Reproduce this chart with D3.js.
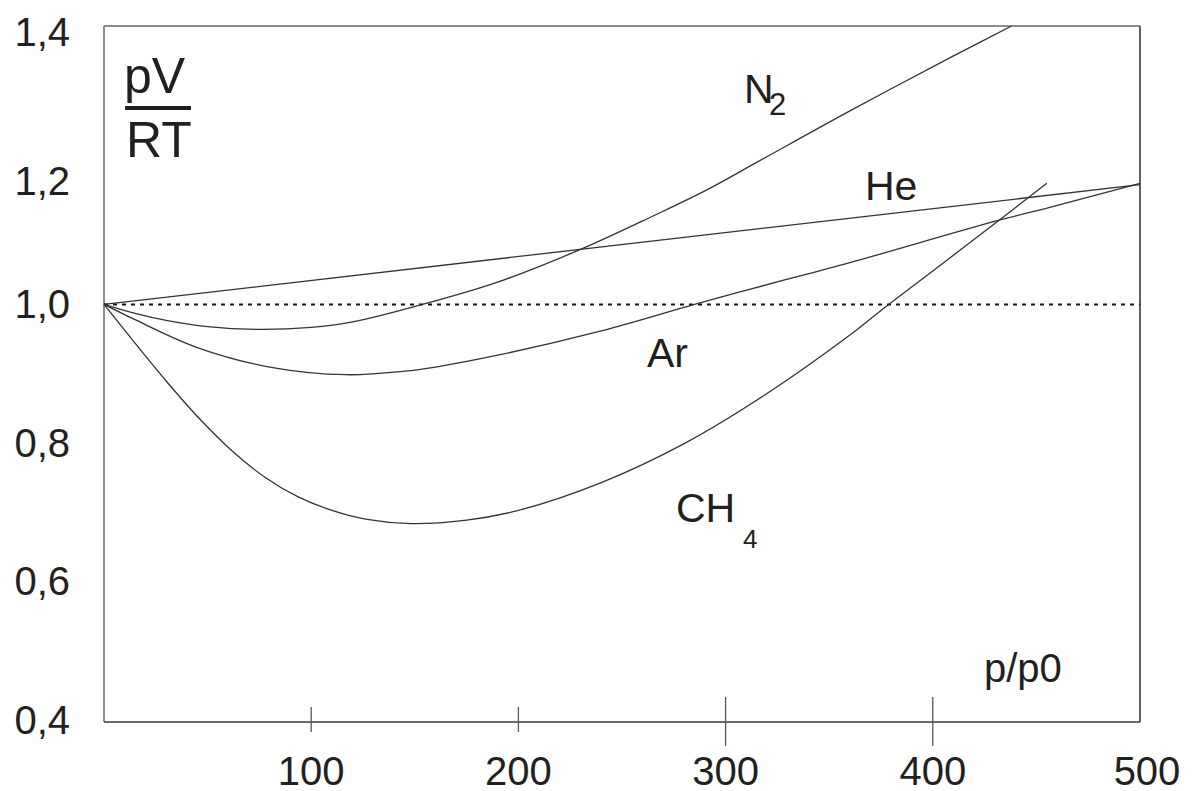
<!DOCTYPE html>
<html>
<head>
<meta charset="utf-8">
<script src="https://cdn.jsdelivr.net/npm/d3@7"></script>
<style>
  body { margin: 0; background: #fff; }
  svg text { font-family: "Liberation Sans", Arial, sans-serif; fill: #231f20; }
</style>
</head>
<body>
<div id="chart"></div>
<script>
// pressure values (p/p0) and pV/RT readings for each gas
var heP = [0, 500];
var heV = [1.0, 1.172];

var n2P = [0, 15, 30, 50, 75, 100, 120, 150, 190, 230, 265, 290, 315, 360, 410, 438];
var n2V = [1.0, 0.987, 0.977, 0.968, 0.964, 0.967, 0.975, 0.997, 1.032, 1.079, 1.127, 1.163, 1.204, 1.278, 1.357, 1.4];

var arP = [0, 15, 45, 80, 117, 145, 160, 190, 240, 285, 312, 336, 360, 432, 456, 500];
var arV = [1.0, 0.978, 0.938, 0.910, 0.899, 0.904, 0.910, 0.927, 0.962, 1.0, 1.022, 1.041, 1.060, 1.121, 1.139, 1.174];

var ch4P = [0, 14, 30, 46, 62, 78, 94, 110, 127, 148, 175, 200, 240, 280, 320, 360, 377, 400, 432, 455];
var ch4V = [1.0, 0.948, 0.890, 0.836, 0.789, 0.751, 0.723, 0.704, 0.691, 0.685, 0.690, 0.704, 0.744, 0.800, 0.872, 0.956, 0.996, 1.048, 1.121, 1.174];

var xTicks = [100, 200, 300, 400, 500];
var xTickLabels = ["100", "200", "300", "400", "500"];
var yTicks = [1.4, 1.2, 1.0, 0.8, 0.6, 0.4];
var yTickLabels = ["1,4", "1,2", "1,0", "0,8", "0,6", "0,4"];

var w = 1192, h = 791;
var plotL = 104, plotR = 1140, plotT = 26, plotB = 722;

var svg = d3.select("#chart").append("svg").attr("width", w).attr("height", h);

var x = d3.scaleLinear().domain([0, 500]).range([plotL, plotR]);
var y = d3.scaleLinear().domain([0.4, 1.4]).range([plotB, plotT]);

// frame: left/top lighter, right/bottom darker
svg.append("line").attr("x1", plotL).attr("y1", plotT).attr("x2", plotL).attr("y2", plotB)
  .attr("stroke", "#8c8c8c").attr("stroke-width", 2);
svg.append("line").attr("x1", plotL).attr("y1", plotT).attr("x2", plotR).attr("y2", plotT)
  .attr("stroke", "#8c8c8c").attr("stroke-width", 2);
svg.append("line").attr("x1", plotR).attr("y1", plotT).attr("x2", plotR).attr("y2", plotB)
  .attr("stroke", "#3a3a3a").attr("stroke-width", 1.6);
svg.append("line").attr("x1", plotL).attr("y1", plotB).attr("x2", plotR).attr("y2", plotB)
  .attr("stroke", "#3a3a3a").attr("stroke-width", 1.6);

// x ticks crossing the bottom line
svg.selectAll("line.xtick")
  .data(xTicks.slice(0, 4))
  .enter().append("line")
  .attr("class", "xtick")
  .attr("x1", function(d) { return x(d); })
  .attr("x2", function(d) { return x(d); })
  .attr("y1", function(d, i) { return plotB - (i < 2 ? 15 : 25); })
  .attr("y2", function(d, i) { return plotB + (i < 2 ? 10 : 24); })
  .attr("stroke", "#555").attr("stroke-width", 1.3);

svg.selectAll("text.xlab")
  .data(xTicks)
  .enter().append("text")
  .attr("class", "xlab")
  .attr("x", function(d, i) { return x(d) + (i == 4 ? 7 : 0); })
  .attr("y", 785)
  .attr("text-anchor", "middle")
  .attr("font-size", 40)
  .text(function(d, i) { return xTickLabels[i]; });

var yNudge = [20, 30, 14, 13, 12, 12];
svg.selectAll("text.ylab")
  .data(yTicks)
  .enter().append("text")
  .attr("class", "ylab")
  .attr("x", 70)
  .attr("y", function(d, i) { return y(d) + yNudge[i]; })
  .attr("text-anchor", "end")
  .attr("font-size", 40)
  .text(function(d, i) { return yTickLabels[i]; });

// ideal gas reference line
svg.append("line")
  .attr("x1", x(0)).attr("x2", x(500))
  .attr("y1", y(1.0)).attr("y2", y(1.0))
  .attr("stroke", "#111").attr("stroke-width", 2)
  .attr("stroke-dasharray", "4,5");

var line = d3.line()
  .x(function(d) { return x(d[0]); })
  .y(function(d) { return y(d[1]); })
  .curve(d3.curveCatmullRom.alpha(0.5));

var series = [[heP, heV], [n2P, n2V], [arP, arV], [ch4P, ch4V]];
series.forEach(function(s) {
  var pts = s[0].map(function(p, i) { return [p, s[1][i]]; });
  svg.append("path")
    .attr("d", line(pts))
    .attr("fill", "none")
    .attr("stroke", "#333")
    .attr("stroke-width", 1.3);
});

// axis title pV / RT
svg.append("text").attr("x", 124).attr("y", 93).attr("font-size", 50).text("pV");
svg.append("line").attr("x1", 125).attr("x2", 191).attr("y1", 108).attr("y2", 108)
  .attr("stroke", "#231f20").attr("stroke-width", 4);
svg.append("text").attr("x", 126).attr("y", 157).attr("font-size", 50).text("RT");

svg.append("text").attr("x", 984).attr("y", 682).attr("font-size", 40).text("p/p0");

// gas labels
svg.append("text").attr("x", 744).attr("y", 103).attr("font-size", 41).text("N");
svg.append("text").attr("x", 769).attr("y", 115).attr("font-size", 31).text("2");
svg.append("text").attr("x", 865).attr("y", 200).attr("font-size", 41).text("He");
svg.append("text").attr("x", 647).attr("y", 367).attr("font-size", 41).text("Ar");
svg.append("text").attr("x", 676).attr("y", 522).attr("font-size", 41).text("CH");
svg.append("text").attr("x", 743).attr("y", 548).attr("font-size", 26).text("4");
</script>
</body>
</html>
